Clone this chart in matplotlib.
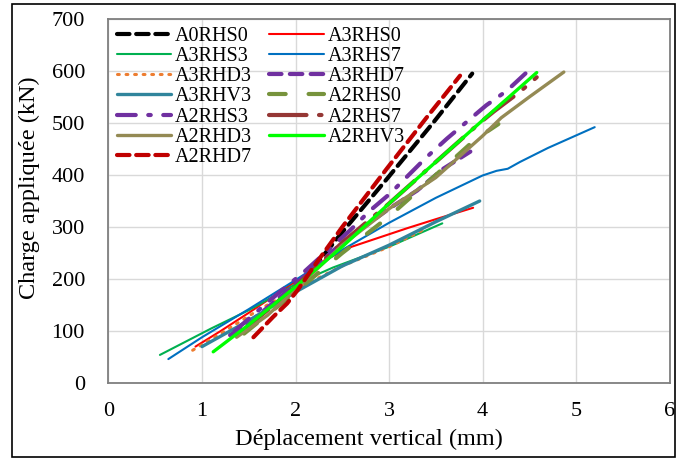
import matplotlib
matplotlib.use('Agg')
import matplotlib.pyplot as plt
from matplotlib.patches import Rectangle

plt.rcParams['font.family'] = ['Liberation Serif', 'DejaVu Serif']

# data (deplacement mm, charge kN)
a0rhs0_x = [2.05, 2.5, 2.98, 3.47, 3.89]
a0rhs0_y = [190, 290, 393, 500, 595]
a3rhs0_x = [0.93, 1.2, 1.5, 2.0, 2.3, 2.6, 2.9, 3.2, 3.5, 3.9]
a3rhs0_y = [70, 100, 135, 195, 235, 262, 280, 298, 315, 337]
a3rhs3_x = [0.55, 1.1, 1.5, 2.0, 2.4, 3.0, 3.57]
a3rhs3_y = [54, 105, 140, 190, 222, 262, 307]
a3rhs7_x = [0.64, 1.0, 1.5, 2.0, 2.5, 3.0, 3.5, 4.0, 4.15, 4.27, 4.4, 4.7, 5.2]
a3rhs7_y = [46, 88, 142, 198, 256, 308, 356, 399, 408, 412, 425, 452, 492]
a3rhd3_x = [0.9, 1.2, 1.6, 2.0, 2.5, 3.0, 3.35]
a3rhd3_y = [63, 95, 140, 180, 225, 262, 293]
a3rhd7_x = [1.3, 1.6, 2.0, 2.5, 3.0, 3.3, 3.58, 3.87]
a3rhd7_y = [92, 130, 190, 270, 335, 370, 412, 445]
a3rhv3_x = [1.0, 1.5, 2.0, 2.5, 3.0, 3.5, 3.97]
a3rhv3_y = [70, 120, 175, 225, 265, 310, 350]
a2rhs0_x = [1.45, 2.0, 2.5, 3.0, 3.5, 3.92, 4.17]
a2rhs0_y = [95, 175, 250, 320, 400, 468, 498]
a2rhs3_x = [1.35, 1.7, 2.1, 2.58, 2.8, 3.01, 3.4, 3.62, 4.04, 4.26, 4.47]
a2rhs3_y = [100, 155, 215, 293, 332, 364, 434, 470, 534, 562, 597]
a2rhs7_x = [1.4, 2.0, 2.5, 3.0, 3.5, 3.97, 4.12, 4.4, 4.58]
a2rhs7_y = [95, 185, 270, 345, 425, 500, 522, 560, 588]
a2rhd3_x = [1.37, 1.7, 2.0, 2.5, 3.0, 3.5, 4.0, 4.2, 4.5, 4.87]
a2rhd3_y = [88, 130, 180, 265, 335, 395, 475, 510, 550, 598]
a2rhv3_x = [1.12, 1.5, 2.0, 2.5, 3.0, 3.5, 4.0, 4.58]
a2rhv3_y = [60, 112, 185, 262, 345, 425, 505, 597]
a2rhd7_x = [1.55, 1.76, 1.91, 2.02, 2.2, 2.5, 2.98, 3.4, 3.76]
a2rhd7_y = [88, 127, 153, 178, 225, 300, 413, 510, 591]

x_ticks = [0, 1, 2, 3, 4, 5, 6]
y_ticks = [0, 100, 200, 300, 400, 500, 600, 700]

# label, x, y, colour, linewidth, linestyle
series = [
    ('A0RHS0', a0rhs0_x, a0rhs0_y, '#000000', 3.0, (0, (3, 1.6))),
    ('A3RHS0', a3rhs0_x, a3rhs0_y, '#FF0000', 1.5, '-'),
    ('A3RHS3', a3rhs3_x, a3rhs3_y, '#00B050', 1.5, '-'),
    ('A3RHS7', a3rhs7_x, a3rhs7_y, '#0070C0', 1.5, '-'),
    ('A3RHD3', a3rhd3_x, a3rhd3_y, '#ED7D31', 2.2, (0, (0.6, 2.2))),
    ('A3RHD7', a3rhd7_x, a3rhd7_y, '#7030A0', 3.0, (0, (3, 2))),
    ('A3RHV3', a3rhv3_x, a3rhv3_y, '#31859C', 2.4, '-'),
    ('A2RHS0', a2rhs0_x, a2rhs0_y, '#77933C', 3.0, (0, (4, 5.5))),
    ('A2RHS3', a2rhs3_x, a2rhs3_y, '#7030A0', 3.0, (0, (4.5, 3, 0.6, 3))),
    ('A2RHS7', a2rhs7_x, a2rhs7_y, '#953735', 3.0, (0, (9, 3, 0.6, 3))),
    ('A2RHD3', a2rhd3_x, a2rhd3_y, '#948A54', 2.4, '-'),
    ('A2RHV3', a2rhv3_x, a2rhv3_y, '#00FF00', 2.4, '-'),
    ('A2RHD7', a2rhd7_x, a2rhd7_y, '#C00000', 3.0, (0, (3, 1.6))),
]

fig = plt.figure(figsize=(6.76, 4.59), dpi=100)
ax = fig.add_axes([108.5/676, 1-383/459, 561/676, 364/459])

handles = {}
for lab, xs, ys, c, lw, ls in series:
    ln, = ax.plot(xs, ys, color=c, lw=lw, linestyle=ls, label=lab,
                  solid_capstyle='round', dash_capstyle='round')
    handles[lab] = ln

ax.set_xlim(0, 6)
ax.set_ylim(0, 700)
ax.set_xticks(x_ticks)
ax.set_yticks(y_ticks)
ax.grid(True, color='#D9D9D9', lw=1.0)
ax.set_axisbelow(True)
ax.tick_params(length=0, labelsize=16)
ax.tick_params(axis='y', pad=17)
ax.tick_params(axis='x', pad=14)
for sp in ax.spines.values():
    sp.set_color('#7F7F7F')
    sp.set_linewidth(1.3)

ax.set_xlabel('Déplacement vertical (mm)', fontsize=17.5)
ax.set_ylabel('Charge appliquée (kN)', fontsize=17.5)
ax.xaxis.set_label_coords(0.464, -0.127)
ax.yaxis.set_label_coords(-0.122, 0.536)

# excel legend fills row by row, matplotlib column by column
order = [s[0] for s in series]
col_order = order[0::2] + order[1::2]
ax.legend([handles[l] for l in col_order], col_order, ncol=2, loc='upper left',
          bbox_to_anchor=(0.0, 1.0), frameon=False, fontsize=14.5,
          handlelength=2.7, handletextpad=0.2, labelspacing=0.05,
          columnspacing=0.85, borderaxespad=0.0)

fig.patches.append(Rectangle((12/676, 2/459), 663/676, 453/459, transform=fig.transFigure,
                             fill=False, edgecolor='black', lw=1.2))

fig.savefig('out.png', dpi=100)
